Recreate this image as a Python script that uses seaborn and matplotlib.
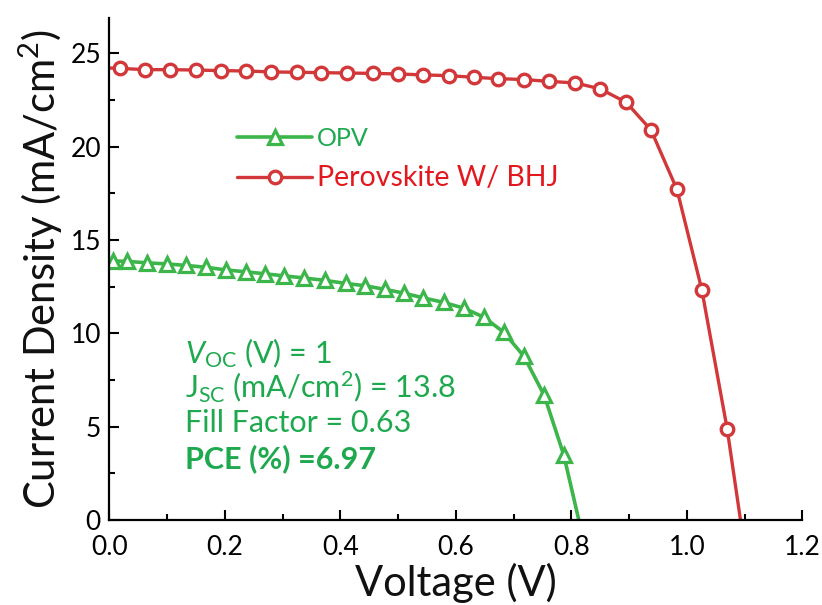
import matplotlib
matplotlib.use("Agg")
import matplotlib.pyplot as plt
import seaborn as sns
import pandas as pd
from matplotlib.ticker import MultipleLocator

# ---------------- data ----------------
# OPV: first point = line start at V=0, last point = line end at Voc (no marker)
opv_v = [0.000, 0.006, 0.030, 0.065, 0.100, 0.133, 0.168, 0.202, 0.236, 0.270,
         0.303, 0.337, 0.373, 0.409, 0.443, 0.477, 0.511, 0.544, 0.579, 0.615,
         0.649, 0.683, 0.718, 0.753, 0.787, 0.813]
opv_j = [13.90, 13.88, 13.86, 13.78, 13.72, 13.64, 13.54, 13.40, 13.30, 13.19,
         13.08, 12.97, 12.84, 12.68, 12.55, 12.36, 12.15, 11.90, 11.66, 11.34,
         10.86, 10.06, 8.77, 6.69, 3.48, 0.00]

# Perovskite W/ BHJ
per_v = [0.000, 0.0185, 0.062, 0.105, 0.150, 0.193, 0.236, 0.280, 0.325, 0.367,
         0.411, 0.457, 0.500, 0.543, 0.588, 0.631, 0.673, 0.718, 0.762, 0.807,
         0.850, 0.895, 0.938, 0.983, 1.026, 1.070, 1.093]
per_j = [24.22, 24.20, 24.13, 24.13, 24.11, 24.08, 24.06, 24.01, 23.99, 23.97,
         23.95, 23.93, 23.90, 23.85, 23.81, 23.72, 23.65, 23.60, 23.50, 23.42,
         23.10, 22.38, 20.90, 17.71, 12.34, 4.87, 0.00]

series_labels = ["OPV", "Perovskite W/ BHJ"]
x_label = "Voltage (V)"
y_label = "Current Density (mA/cm$^2$)"
annot_lines = ["$V_{\\mathrm{OC}}$ (V) = 1",
               "J$_{\\mathrm{SC}}$ (mA/cm$^2$) = 13.8",
               "Fill Factor = 0.63",
               "PCE (%) =6.97"]

# ---------------- style ----------------
sns.set_theme(style="white")
plt.rcParams["font.family"] = ["Lato", "DejaVu Sans"]
plt.rcParams["mathtext.fontset"] = "custom"
plt.rcParams["mathtext.rm"] = "Lato"
plt.rcParams["mathtext.it"] = "Lato:italic"
plt.rcParams["mathtext.bf"] = "Lato:bold"

green = "#3cb64a"
green_txt = "#1ea94f"
red = "#d23739"
red_txt = "#e3181f"

fig = plt.figure(figsize=(8.22, 6.05), dpi=100)
ax = fig.add_axes([0.133, 0.1405, 0.843, 0.8298])

df_opv = pd.DataFrame({"V": opv_v, "J": opv_j})
df_per = pd.DataFrame({"V": per_v, "J": per_j})

sns.lineplot(data=df_opv, x="V", y="J", ax=ax, color=green, lw=2.6,
             marker="^", markersize=10.5, markeredgewidth=2.3,
             markerfacecolor="white", markeredgecolor=green,
             markevery=slice(1, len(opv_v) - 1), sort=False,
             label=series_labels[0])
sns.lineplot(data=df_per, x="V", y="J", ax=ax, color=red, lw=2.4,
             marker="o", markersize=9.0, markeredgewidth=2.4,
             markerfacecolor="white", markeredgecolor=red,
             markevery=slice(1, len(per_v) - 1), sort=False,
             label=series_labels[1])

ax.set_xlim(0, 1.2)
ax.set_ylim(0, 26.9)
ax.xaxis.set_major_locator(MultipleLocator(0.2))
ax.xaxis.set_minor_locator(MultipleLocator(0.1))
ax.yaxis.set_major_locator(MultipleLocator(5))
ax.yaxis.set_minor_locator(MultipleLocator(2.5))
ax.xaxis.set_major_formatter(matplotlib.ticker.FormatStrFormatter("%.1f"))

for s in ["top", "right"]:
    ax.spines[s].set_visible(False)
for s in ["left", "bottom"]:
    ax.spines[s].set_color("black")
    ax.spines[s].set_linewidth(1.6)

ax.tick_params(which="major", direction="in", length=7, width=1.5,
               colors="black", labelsize=19)
ax.tick_params(which="minor", direction="in", length=4, width=1.5, colors="black")
ax.tick_params(axis="x", which="both", pad=11, bottom=True)
ax.tick_params(axis="y", which="both", pad=6, left=True)

ax.set_xlabel(x_label, fontsize=30, color="#111111", labelpad=2)
ax.set_ylabel(y_label, fontsize=30, color="#111111", labelpad=4)

leg = ax.legend(loc="center left", bbox_to_anchor=(0.17, 0.72), frameon=False,
                handlelength=3.0, handletextpad=0.2, labelspacing=0.6,
                fontsize=18, borderaxespad=0)
texts = leg.get_texts()
texts[0].set_color(green_txt)
texts[0].set_fontsize(18)
texts[1].set_color(red_txt)
texts[1].set_fontsize(20.5)

annot_y = [8.40, 6.53, 4.71, 2.78]
for i, (txt, yy) in enumerate(zip(annot_lines, annot_y)):
    ax.text(0.131, yy, txt, color=green_txt, fontsize=22, va="baseline",
            ha="left", fontweight="bold" if i == 3 else "normal")

fig.savefig("out.png", dpi=100)
